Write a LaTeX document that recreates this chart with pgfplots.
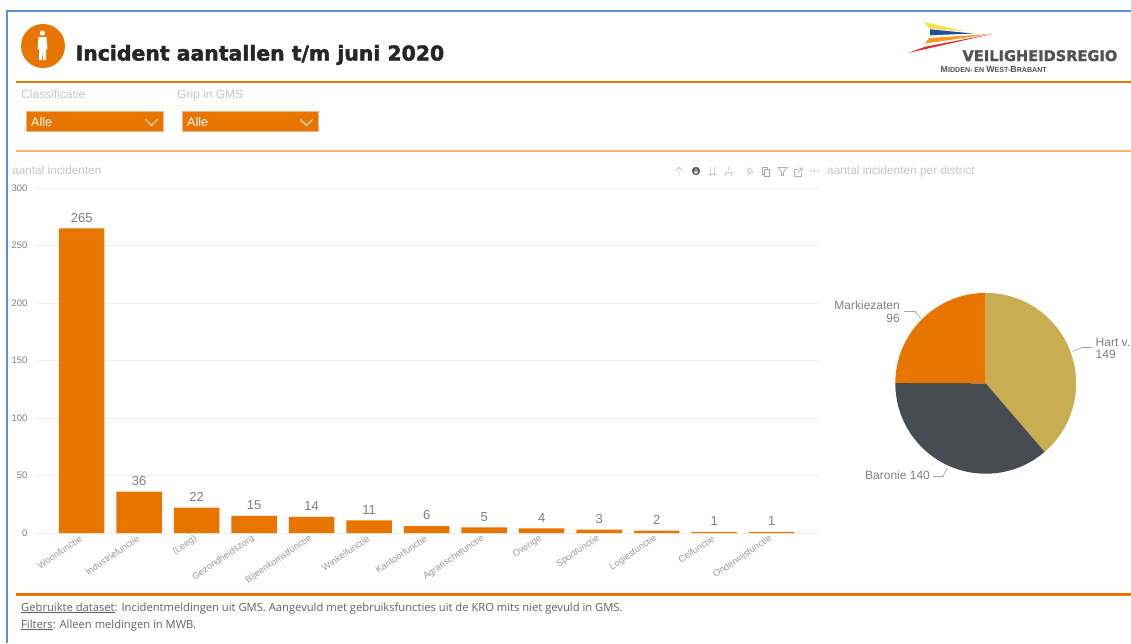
\documentclass[border=0pt]{standalone}
\usepackage{fontspec}
\usepackage{pgfplots}
\usepackage{pgfplotstable}
\pgfplotsset{compat=1.18}
\setmainfont{Liberation Sans}
\newfontfamily\titlefont{DejaVu Sans}[UprightFont=* Bold,FakeBold=2]
\newfontfamily\logofont{DejaVu Sans}[UprightFont=* Bold,FakeBold=1.5]
\newfontfamily\notefont{Open Sans}
\newcommand{\fs}[1]{\fontsize{#1}{#1}\selectfont}
\definecolor{brand}{HTML}{E87500}
\definecolor{brandsoft}{HTML}{F2B77F}
\definecolor{frameblue}{HTML}{5B8FD6}
\definecolor{paneltitle}{HTML}{C6C6C6}
\definecolor{numgrey}{HTML}{808080}
\definecolor{catgrey}{HTML}{9A9A9A}
\definecolor{gridgrey}{HTML}{EDEDED}
\definecolor{gold}{HTML}{C8AE50}
\definecolor{slate}{HTML}{474C52}
\definecolor{iconsoft}{HTML}{CFCFCF}
\definecolor{logoyellow}{HTML}{F2E14C}
\definecolor{logoblue}{HTML}{1C4F9C}
\definecolor{logoorange}{HTML}{F39A1F}
\definecolor{logored}{HTML}{E5282E}

\pgfplotstableread{
idx name value
0 Woonfunctie 265
1 Industriefunctie 36
2 (Leeg) 22
3 Gezondheidszorg 15
4 Bijeenkomstfunctie 14
5 Winkelfunctie 11
6 Kantoorfunctie 6
7 Agrarischefunctie 5
8 Overige 4
9 Sportfunctie 3
10 Logiesfunctie 2
11 Celfunctie 1
12 Onderwijsfunctie 1
}\functies

\begin{document}
\begin{tikzpicture}[x=1pt,y=-1pt]
\useasboundingbox (0,0) rectangle (1131,643);
\fill[white] (0,0) rectangle (1131,643);

% report frame
\draw[frameblue,line width=1.5pt] (6.8,643) -- (6.8,11) -- (1131,11);

% header badge with figure
\fill[brand] (43,46) circle (22);
\fill[white] (42.4,33) circle (2.6);
\fill[white] (38.5,37) -- (46.5,37) -- (47.5,49) -- (46,49) -- (46,60) -- (43.2,60) -- (42.6,50) -- (42,60) -- (39.2,60) -- (39,49) -- (37.5,49) -- cycle;

\node[anchor=base west,inner sep=0pt,text=black!85] at (75.5,60.5) {\titlefont\fs{20.4}Incident aantallen t/m juni 2020};

% organisation logo
\fill[logoyellow] (924,22) -- (964,31) -- (930,29) -- cycle;
\fill[logoblue] (930,29.3) -- (973,33.5) -- (930,35.3) -- cycle;
\fill[logoorange] (929,38) -- (991,34) -- (925,43.5) -- cycle;
\fill[logored] (908,53) -- (992,34) -- (925,46.8) -- cycle;
\node[anchor=base east,inner sep=0pt,text=black!68] at (1117.5,61) {\logofont\fs{14.6}VEILIGHEIDSREGIO};
\node[anchor=base west,inner sep=0pt,text=black!68] at (940.5,72) {\bfseries\fs{8.8}M\fs{7.1}IDDEN- EN \fs{8.8}W\fs{7.1}EST-\fs{8.8}B\fs{7.1}RABANT};

% rules
\draw[brand,line width=2pt] (16,82) -- (1131,82);
\draw[brandsoft,line width=1.4pt] (16,151) -- (1131,151);
\draw[brand,line width=2.4pt] (16,594.5) -- (1131,594.5);

% slicers
\node[anchor=base west,inner sep=0pt,text=paneltitle] at (21,98) {\fs{12}Classificatie};
\node[anchor=base west,inner sep=0pt,text=paneltitle] at (177,98) {\fs{12}Grip in GMS};
\foreach \xa/\xb in {26/163,182/318}{
  \fill[brand,draw=brandsoft,line width=1pt] (\xa,111) rectangle (\xb,131.5);
  \node[anchor=base west,inner sep=0pt,text=white] at (\xa+5,126) {\fs{12.5}Alle};
  \draw[white,line width=0.8pt] (\xb-17.5,119.5) -- (\xb-11.5,125.5) -- (\xb-5.5,119.5);
}

% panel titles
\node[anchor=base west,inner sep=0pt,text=paneltitle] at (12,174) {\fs{11.8}aantal incidenten};
\node[anchor=base west,inner sep=0pt,text=paneltitle] at (827,174) {\fs{11.85}aantal incidenten per district};

% visual header icons
\begin{scope}[iconsoft,line width=0.8pt]
  \draw (679,175.5) -- (679,167) (675.5,170.5) -- (679,167) -- (682.5,170.5);
  \draw (710.5,167) -- (710.5,175.5) (708.5,173.5) -- (710.5,175.5) -- (712.5,173.5);
  \draw (714.5,167) -- (714.5,175.5) (712.5,173.5) -- (714.5,175.5) -- (716.5,173.5);
  \draw (728.5,167) -- (728.5,170) (725.5,175.5) -- (725.5,172) -- (731.5,172) -- (731.5,175.5);
  \draw (747,175) -- (750,171.5) (749,168) -- (753,172) -- (750,174) -- (747.5,171) -- cycle;
  \draw[black!35] (762.5,167) rectangle (767.5,174);
  \draw[black!35,fill=white] (764.5,169) rectangle (769.5,176);
  \draw[black!30] (778,167.5) -- (787,167.5) -- (783.5,172) -- (783.5,175.5) -- (781.5,175.5) -- (781.5,172) -- cycle;
  \draw[black!30] (801.5,172) -- (801.5,176) -- (794.5,176) -- (794.5,169.5) -- (798,169.5);
  \draw[black!30] (798,172.5) -- (802,168) (799,168) -- (802,168) -- (802,171);
\end{scope}
\fill[black!62] (696,171) circle (4.2);
\draw[white,line width=0.7pt] (696,168.5) -- (696,173) (694,171.3) -- (696,173.3) -- (698,171.3);
\foreach \dx in {811,814.5,818} \fill[black!55] (\dx,171) circle (0.7);

% bar chart
\begin{axis}[
  at={(36pt,-533pt)}, anchor=south west,
  scale only axis, width=782pt, height=345pt,
  xmin=-0.795, xmax=12.805, ymin=0, ymax=300,
  clip=false,
  axis line style={draw=none},
  xtick=data, xticklabels from table={\functies}{name},
  ytick={0,50,100,150,200,250,300},
  major tick length=0pt,
  ymajorgrids, grid style={gridgrey,line width=0.8pt},
  /pgf/number format/assume math mode=true,
  yticklabel style={font=\fs{9.5},text=numgrey,xshift=-5pt},
  xticklabel style={font=\fs{9.2},text=catgrey,rotate=34,anchor=east,xshift=0pt,yshift=-3.5pt},
  every node near coord/.append style={font=\fs{13},text=numgrey,yshift=2.5pt},
  nodes near coords,
]
\addplot[ybar,bar width=45.5pt,bar shift=0pt,fill=brand,draw=none] table[x=idx,y=value] {\functies};
\end{axis}

% district pie: angles follow from the three counts
\def\vHart{149}\def\vBaronie{140}\def\vMark{96}
\pgfmathsetmacro{\total}{\vHart+\vBaronie+\vMark}
\pgfmathsetmacro{\dHart}{\vHart/\total*360}
\pgfmathsetmacro{\dBaronie}{\vBaronie/\total*360}
\pgfmathsetmacro{\dMark}{\vMark/\total*360}
\pgfmathsetmacro{\aHart}{90}
\pgfmathsetmacro{\aBaronie}{90-\dHart}
\pgfmathsetmacro{\aMark}{90-\dHart-\dBaronie}
\begin{axis}[
  at={(985.7pt,-383.3pt)}, anchor=center,
  x=1pt, y=1pt, xmin=-100, xmax=100, ymin=-100, ymax=100,
  hide axis, clip=false,
]
\fill[gold] (axis cs:0,0) -- (axis cs:{90.4*cos(\aHart)},{90.4*sin(\aHart)}) arc[start angle=\aHart,delta angle=-\dHart,radius=90.4pt] -- cycle;
\fill[slate] (axis cs:0,0) -- (axis cs:{90.4*cos(\aBaronie)},{90.4*sin(\aBaronie)}) arc[start angle=\aBaronie,delta angle=-\dBaronie,radius=90.4pt] -- cycle;
\fill[brand] (axis cs:0,0) -- (axis cs:{90.4*cos(\aMark)},{90.4*sin(\aMark)}) arc[start angle=\aMark,delta angle=-\dMark,radius=90.4pt] -- cycle;
\end{axis}

% pie labels and leaders
\node[anchor=base east,inner sep=0pt,text=numgrey] at (900,309.5) {\fs{12}Markiezaten};
\node[anchor=base east,inner sep=0pt,text=numgrey] at (900,322) {\fs{12}96};
\node[anchor=base west,inner sep=0pt,text=numgrey] at (1095.5,346) {\fs{12}Hart v.};
\node[anchor=base west,inner sep=0pt,text=numgrey] at (1095.5,358.5) {\fs{12}149};
\node[anchor=base west,inner sep=0pt,text=numgrey] at (865,479.5) {\fs{12}Baronie 140};
\begin{scope}[black!35,line width=0.7pt]
  \draw (904,311.5) -- (915,311.5) -- (920.5,318);
  \draw (1072.5,351.5) -- (1082,347.5) -- (1092,347.5);
  \draw (933,476.5) -- (943,476.5) -- (947,468);
\end{scope}

% data notes
\node[anchor=base west,inner sep=0pt,text=black!62] at (21,611) {\notefont\fs{11.2}\underline{Gebruikte dataset}: Incidentmeldingen uit GMS. Aangevuld met gebruiksfuncties uit de KRO mits niet gevuld in GMS.};
\node[anchor=base west,inner sep=0pt,text=black!62] at (21,628) {\notefont\fs{11.2}\underline{Filters}: Alleen meldingen in MWB.};
\end{tikzpicture}
\end{document}
